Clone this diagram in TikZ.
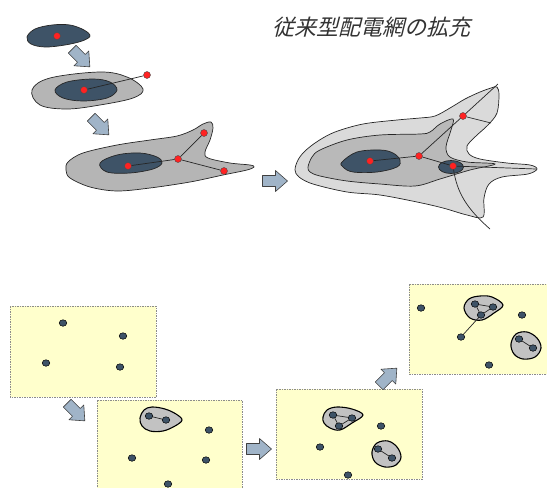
\documentclass[tikz,border=0pt]{standalone}
\usepackage{fontspec}
\usetikzlibrary{shapes.geometric}
\newfontfamily\jpfont[FakeSlant=0.25]{Noto Sans CJK JP}
\definecolor{darkblob}{HTML}{3E5367}
\definecolor{grayA}{HTML}{B5B5B5}
\definecolor{grayL}{HTML}{DADADA}
\definecolor{grayM}{HTML}{B9B9B9}
\definecolor{reddot}{HTML}{FF2222}
\definecolor{arrowfill}{HTML}{A0B4C8}
\definecolor{panelfill}{HTML}{FFFFCC}
\definecolor{blobgray}{HTML}{C2C2C2}
\tikzset{
  outline/.style={draw=black!85, line width=0.7pt},
  rdot/.style={circle, fill=reddot, draw=black!70, line width=0.4pt, inner sep=0pt, minimum size=7pt},
  bdot/.style={ellipse, fill=darkblob, draw=black, line width=0.5pt, inner sep=0pt, minimum width=7.5pt, minimum height=6.5pt},
  wire/.style={draw=black!85, line width=0.7pt},
  arrowlook/.style={fill=arrowfill, draw=black!75, line width=0.6pt, line join=round},
  blockarrow/.pic={\path[arrowlook] (-12.5,-5.5) -- (0.5,-5.5) -- (0.5,-10.5) -- (12.5,0)
      -- (0.5,10.5) -- (0.5,5.5) -- (-12.5,5.5) -- cycle;},
  panel/.style={fill=panelfill, draw=black!45, dashed, dash pattern=on 1.5pt off 1pt, line width=0.6pt},
  gblob/.style={fill=blobgray, draw=black, line width=1.1pt},
}
\begin{document}
\begin{tikzpicture}[x=1pt,y=-1pt]
\useasboundingbox (0,0) rectangle (547,488);
\clip (0,0) rectangle (547,488);

% title
\node[text=black!80, font=\jpfont\fontsize{22}{26}\selectfont] (title) at (371,27) {従来型配電網の拡充};

% stage 1
\draw[outline, fill=darkblob] plot[smooth cycle, tension=0.6] coordinates
 {(27,37) (35,29) (52,25) (70,25) (84,30) (90,36) (82,41) (65,45) (45,47) (31,44)};
\node[rdot] (s1c) at (57,36) {};

\pic[rotate=-45] (a1) at (81,58) {blockarrow};

% stage 2
\draw[outline, fill=grayA] plot[smooth cycle, tension=0.6] coordinates
 {(32,90) (50,78) (100,72) (127,77) (143,89) (133,98) (100,105) (67,109) (40,105)};
\draw[outline, fill=darkblob] plot[smooth cycle, tension=0.6] coordinates
 {(55,90) (67,82) (93,79) (110,82) (117,90) (107,98) (83,101) (63,98)};
\node[rdot] (s2c) at (84,90) {};
\node[rdot] (s2e) at (147,75) {};
\draw[wire] (s2c) -- (s2e);

\pic[rotate=-45] (a2) at (100,126) {blockarrow};

% stage 3
\draw[outline, fill=grayA] plot[smooth cycle, tension=0.55] coordinates
 {(66,170) (68,162) (83,153) (117,145) (150,140) (177,136) (193,130) (203,124) (211,122)
  (213,128) (210,140) (205,152) (208,158) (230,163) (250,165) (254,167) (247,170) (223,175)
  (190,182) (150,188) (117,191) (90,187) (70,178)};
\draw[outline, fill=darkblob] plot[smooth cycle, tension=0.6] coordinates
 {(100,163) (117,155) (140,153) (157,157) (162,163) (153,169) (130,173) (107,172)};
\node[rdot] (s3c) at (128,166) {};
\node[rdot] (s3m) at (178,159) {};
\node[rdot] (s3t) at (204,133) {};
\node[rdot] (s3r) at (224,171) {};
\draw[wire] (s3c) -- (s3m);
\draw[wire] (s3m) -- (s3t);
\draw[wire] (s3m) -- (s3r);

\pic (a3) at (275,181) {blockarrow};

% stage 4
\draw[outline, fill=grayL] plot[smooth cycle, tension=0.55] coordinates
 {(295,170) (298,160) (305,151) (318,141) (335,132) (363,124) (397,120) (420,118) (435,116)
  (450,108) (465,99) (480,92) (491,88) (497,87) (499,95) (497,113) (488,125) (476,136)
  (467,146) (469,154) (480,159) (507,163) (530,165) (537,169) (528,174) (502,177) (489,184)
  (484,198) (483,217) (467,215) (443,208) (417,202) (380,195) (347,192) (313,184) (299,177)};
\draw[outline, fill=grayM] plot[smooth cycle, tension=0.55] coordinates
 {(308,167) (312,157) (320,150) (347,140) (380,135) (420,134) (430,132) (440,124) (453,119)
  (451,130) (446,147) (450,157) (467,162) (495,164) (470,170) (440,179) (415,186) (380,184)
  (347,181) (320,176) (310,172)};
\draw[outline, fill=darkblob] plot[smooth cycle, tension=0.6] coordinates
 {(342,162) (357,152) (380,150) (393,153) (400,160) (397,167) (377,172) (353,172) (343,167)};
\draw[outline, fill=darkblob] (451,167) ellipse [x radius=12.5, y radius=6.5];
\coordinate (tipT) at (498,84);
\coordinate (edgeR) at (491,123);
\coordinate (tipR) at (536,169);
\coordinate (tailB) at (490,229);
\node[rdot] (s4c) at (370,161) {};
\node[rdot] (s4m) at (419,156) {};
\node[rdot] (s4t) at (463,116) {};
\node[rdot] (s4s) at (453,166) {};
\draw[wire] (s4c) -- (s4m);
\draw[wire] (s4m) -- (s4t);
\draw[wire] (s4m) -- (s4s);
\draw[wire] (s4t) -- (tipT);
\draw[wire] (s4t) -- (edgeR);
\draw[wire] (s4s) -- (tipR);
\draw[wire] (s4s) .. controls (457,192) and (466,208) .. (tailB);

% bottom panels
\draw[panel] (10,306) rectangle (156,397);
\node[bdot] (p1a) at (63,323) {};
\node[bdot] (p1b) at (123,336) {};
\node[bdot] (p1c) at (46,363) {};
\node[bdot] (p1d) at (120,367) {};

\pic[rotate=-45] (a4) at (76,412) {blockarrow};

\draw[panel] (97,400) rectangle (242,495);
\draw[gblob] plot[smooth cycle, tension=0.6] coordinates
 {(140,418) (144,410) (152,407) (165,409) (176,414) (182,420) (175,426) (163,431) (150,431) (142,426)};
\node[bdot] (p2a) at (149,416) {};
\node[bdot] (p2b) at (166,420) {};
\draw[wire] (p2a) -- (p2b);
\node[bdot] (p2c) at (209,430) {};
\node[bdot] (p2d) at (132,458) {};
\node[bdot] (p2e) at (206,460) {};
\node[bdot] (p2f) at (168,484) {};

\pic (a5) at (259,449) {blockarrow};

\draw[panel] (276,389) rectangle (422,479);
\draw[gblob] plot[smooth cycle, tension=0.6] coordinates
 {(323,417) (327,410) (337,407) (352,409) (363,415) (352,423) (340,430) (330,428) (324,423)};
\node[bdot] (p3a) at (333,415) {};
\node[bdot] (p3b) at (352,418) {};
\node[bdot] (p3c) at (339,426) {};
\draw[wire] (p3a) -- (p3b) -- (p3c) -- (p3a);
\draw[gblob] plot[smooth cycle, tension=0.6] coordinates
 {(372,452) (377,443) (388,441) (397,447) (401,457) (396,465) (385,467) (375,462)};
\node[bdot] (p3d) at (378,449) {};
\node[bdot] (p3e) at (392,458) {};
\draw[wire] (p3d) -- (p3e);
\node[bdot] (p3f) at (381,426) {};
\node[bdot] (p3g) at (320,447) {};
\node[bdot] (p3h) at (348,475) {};

\pic[rotate=45] (a6) at (388,377) {blockarrow};

\draw[panel] (409,284) rectangle (560,374);
\draw[gblob] plot[smooth cycle, tension=0.6] coordinates
 {(464,308) (469,299) (480,296) (492,297) (503,305) (494,313) (482,320) (470,318)};
\node[bdot] (p4a) at (475,304) {};
\node[bdot] (p4b) at (493,307) {};
\node[bdot] (p4c) at (481,315) {};
\draw[wire] (p4a) -- (p4b) -- (p4c) -- (p4a);
\node[bdot] (p4d) at (461,337) {};
\draw[wire] (p4c) -- (p4d);
\draw[gblob] plot[smooth cycle, tension=0.6] coordinates
 {(511,344) (516,334) (527,332) (537,338) (541,348) (535,357) (523,359) (514,354)};
\node[bdot] (p4e) at (519,339) {};
\node[bdot] (p4f) at (533,348) {};
\draw[wire] (p4e) -- (p4f);
\node[bdot] (p4g) at (421,308) {};
\node[bdot] (p4h) at (522,315) {};
\node[bdot] (p4i) at (489,365) {};
\end{tikzpicture}
\end{document}
